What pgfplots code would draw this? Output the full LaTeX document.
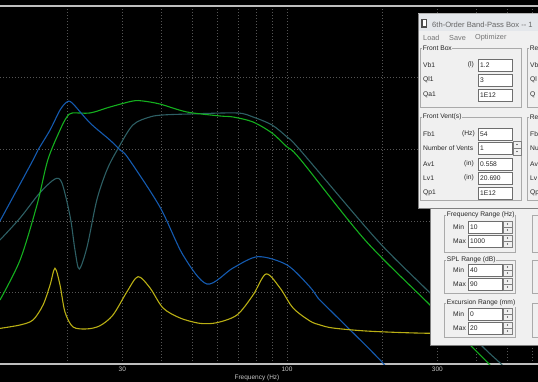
\documentclass[border=0pt]{standalone}
\usepackage{pgfplots}
\pgfplotsset{compat=1.18}
\usepackage{fontspec}
\setmainfont{Liberation Sans}
\definecolor{blueC}{RGB}{20,90,175}
\definecolor{greenC}{RGB}{20,175,30}
\definecolor{tealC}{RGB}{45,95,100}
\definecolor{yellowC}{RGB}{185,175,20}
\definecolor{gridC}{RGB}{85,85,85}
\definecolor{axisC}{RGB}{190,190,190}
\definecolor{tickC}{RGB}{200,200,200}
\definecolor{winface}{RGB}{240,240,240}
\definecolor{titleC}{RGB}{228,231,235}
\definecolor{frameC}{RGB}{170,170,170}
\definecolor{fieldB}{RGB}{110,110,110}
\begin{document}
\begin{tikzpicture}
\useasboundingbox (0pt,0pt) rectangle (538pt,-382pt);
\fill[black] (0pt,0pt) rectangle (538pt,-382pt);
\begin{scope}
\clip (0pt,0pt) rectangle (538pt,-382pt);
\begin{axis}[at={(0pt,-364pt)}, anchor=south west, scale only axis,
  width=538pt, height=358pt, xmode=log, xmin=12.27, xmax=626.3,
  ymin=40, ymax=90, axis line style={draw=none},
  xtick={30,100,300}, xticklabels={30,100,300},
  minor xtick={20,40,50,60,70,80,90,200,400,500,600},
  ytick={50,60,70,80}, yticklabels={},
  grid=both,
  major grid style={gridC, dash pattern=on 1pt off 2pt, line width=0.6pt},
  minor grid style={gridC, dash pattern=on 1pt off 2pt, line width=0.6pt},
  major tick length=0pt, minor tick length=0pt,
  xticklabel style={font=\fontsize{6.5}{7}\selectfont, text=tickC, inner sep=0pt, yshift=-2.5pt},
  /pgf/number format/assume math mode=true,
  clip mode=individual]
\draw[axisC, line width=1.6pt] (rel axis cs:0,0) -- (rel axis cs:1,0);
\draw[axisC, line width=1.6pt] (rel axis cs:0,1) -- (rel axis cs:1,1);
% teal
\addplot[tealC, line width=1.1pt, smooth, tension=0.5] table {
12.27 57.32
14.21 60.39
16.4 63.88
18.34 65.84
19.3 65.28
20.5 60.53
21.23 55.9
21.9 53.27
23.18 56.34
24.9 62.91
26.8 67.09
28.9 69.89
32.4 73.38
36.7 74.50
40.4 74.78
49.2 74.92
69.4 75.06
78.0 74.50
89.6 73.38
100 71.70
110 69.89
193.1 57.32
284.4 49.92
415.9 42.51
474.7 40.14
529 38.04
};
% green
\addplot[greenC, line width=1.1pt, smooth, tension=0.5] table {
12.27 48.94
14.21 54.53
16.08 62.21
17.4 68.49
19.03 72.68
20.0 74.50
20.8 75.06
23.7 75.06
27.4 75.89
32.4 76.73
34.9 76.73
39.5 76.31
48.1 75.20
61.3 74.64
67.4 74.50
78.0 73.80
89.6 72.26
100 70.31
110 68.63
176.8 57.32
284.4 48.24
434.6 40.14
474.7 38.32
};
% blue
\addplot[blueC, line width=1.1pt, smooth, tension=0.5] table {
12.27 59.97
14.21 65.14
15.62 68.49
16.2 69.89
17.69 72.68
19.03 75.47
20.0 76.59
20.8 76.45
23.7 73.66
27.4 71.28
29.5 69.89
31.3 68.77
39.5 61.93
46.75 55.22
55.7 51.17
67.4 53.41
80.9 54.99
100 53.83
118.3 50.75
125.4 49.22
136.9 47.54
200.2 40.28
228 37.07
};
\end{axis}
\begin{axis}[at={(0pt,-364pt)}, anchor=south west, scale only axis,
  width=538pt, height=358pt, xmode=log, xmin=12.27, xmax=626.3,
  ymin=0, ymax=20, hide axis]
\addplot[yellowC, line width=1.1pt, smooth, tension=0.5] table {
12.27 1.99
14.21 2.18
15.62 2.46
16.81 3.30
17.69 4.41
18.34 5.35
19.03 4.41
19.73 2.91
20.92 2.07
23.18 1.96
25.49 2.14
28.03 2.74
31.05 4.04
33.65 4.88
36.74 4.25
40.40 3.13
45.75 2.57
52.95 2.27
59.95 2.31
69.39 2.74
78.0 3.85
85.8 5.03
95.0 4.25
104.5 3.13
118.3 2.40
127.3 2.18
140.0 2.01
179.5 1.84
258.7 1.73
410 1.68
626.3 1.65
};
\end{axis}
\begin{scope}[x=1pt, y=-1pt]
\tikzset{lab/.style={font=\fontsize{6.7}{7}\selectfont, inner sep=0pt, anchor=west, text=black!85},
  fld/.style={fill=white, draw=fieldB, line width=0.6pt},
  grp/.style={draw=frameC, line width=0.6pt},
  gtitle/.style={font=\fontsize{6.7}{7}\selectfont, inner sep=0.6pt, anchor=west, fill=winface, text=black!85}}
\node[font=\fontsize{6.5}{7}\selectfont, text=tickC, inner sep=0pt] at (257,377.5) {Frequency (Hz)};
% lower window
\fill[winface] (430,200) rectangle (545,345);
\draw[gray, line width=0.8pt] (430,200) -- (430,345) -- (545,345);
\draw[grp] (444,215) rectangle (515,252);
\node[gtitle] at (446,215) {Frequency Range (Hz)};
\node[lab] at (453,227) {Min};
\draw[fld] (468,221) rectangle (502,233); \node[lab] at (470,227) {10};
\node[lab] at (453,241) {Max};
\draw[fld] (468,235) rectangle (502,247); \node[lab] at (470,241) {1000};
\draw[grp] (444,260) rectangle (515,293);
\node[gtitle] at (446,260) {SPL Range (dB)};
\node[lab] at (453,270) {Min};
\draw[fld] (468,264) rectangle (502,276); \node[lab] at (470,270) {40};
\node[lab] at (453,284) {Max};
\draw[fld] (468,278) rectangle (502,290); \node[lab] at (470,284) {90};
\draw[grp] (444,303) rectangle (515,337);
\node[gtitle] at (446,303) {Excursion Range (mm)};
\node[lab] at (453,314) {Min};
\draw[fld] (468,308) rectangle (502,320); \node[lab] at (470,314) {0};
\node[lab] at (453,328) {Max};
\draw[fld] (468,322) rectangle (502,334); \node[lab] at (470,328) {20};
\foreach \yy in {221,235,264,278,308,322} {
  \draw[fill=winface, draw=gray, line width=0.4pt] (503,\yy) rectangle (512,\yy+12);
  \draw[gray, line width=0.4pt] (503,\yy+6) -- (512,\yy+6);
  \fill[black] (507.5,\yy+3) circle (0.6);
  \fill[black] (507.5,\yy+9) circle (0.6);
}
\draw[grp] (532,215) rectangle (560,252);
\draw[grp] (532,260) rectangle (560,293);
\draw[grp] (532,303) rectangle (560,337);
% upper window
\fill[winface] (418,13) rectangle (545,208);
\draw[gray, line width=0.8pt] (418,13) -- (418,208) -- (545,208);
\draw[gray!60, line width=0.6pt] (418,13) -- (545,13);
\fill[titleC] (419,14) rectangle (545,31);
\fill[black!70] (421,19) rectangle (427,28);
\fill[white] (422.5,20.5) rectangle (425.5,26.5);
\node[lab, text=black!60, font=\fontsize{7.6}{8}\selectfont] at (432,24.5) {6th-Order Band-Pass Box {-}{-} 1};
\node[lab, text=black!55, font=\fontsize{7.3}{8}\selectfont] at (423,38) {Load};
\node[lab, text=black!55, font=\fontsize{7.3}{8}\selectfont] at (449,38) {Save};
\node[lab, text=black!55, font=\fontsize{7.3}{8}\selectfont] at (475,38) {Optimizer};
\draw[grp] (420,48) rectangle (521,107);
\node[gtitle] at (422,48) {Front Box};
\node[lab] at (423,65) {Vb1}; \node[lab, anchor=east] at (474,65) {(l)};
\draw[fld] (478,59) rectangle (512,71); \node[lab] at (480,65) {1.2};
\node[lab] at (423,80) {Ql1};
\draw[fld] (478,74) rectangle (512,86); \node[lab] at (480,80) {3};
\node[lab] at (423,95) {Qa1};
\draw[fld] (478,89) rectangle (512,101); \node[lab] at (480,95) {1E12};
\draw[grp] (420,117) rectangle (521,200);
\node[gtitle] at (422,117) {Front Vent(s)};
\node[lab] at (423,134) {Fb1}; \node[lab, anchor=east] at (475,134) {(Hz)};
\draw[fld] (478,128) rectangle (512,140); \node[lab] at (480,134) {54};
\node[lab] at (423,148) {Number of Vents};
\draw[fld] (478,142) rectangle (512,154); \node[lab] at (480,148) {1};
\draw[fill=winface, draw=gray, line width=0.4pt] (513,141) rectangle (521,155);
\draw[gray, line width=0.4pt] (513,148) -- (521,148);
\fill[black] (517,144.5) circle (0.6); \fill[black] (517,151.5) circle (0.6);
\node[lab] at (423,164) {Av1}; \node[lab, anchor=east] at (474,164) {(in)};
\draw[fld] (478,158) rectangle (512,170); \node[lab] at (480,164) {0.558};
\node[lab] at (423,178) {Lv1}; \node[lab, anchor=east] at (474,178) {(in)};
\draw[fld] (478,172) rectangle (512,184); \node[lab] at (480,178) {20.690};
\node[lab] at (423,193) {Qp1};
\draw[fld] (478,187) rectangle (512,199); \node[lab] at (480,193) {1E12};
\draw[grp] (527,48) rectangle (560,107);
\node[gtitle] at (529,48) {Re};
\node[lab] at (530,65) {Vb};
\node[lab] at (530,80) {Ql};
\node[lab] at (530,95) {Q};
\draw[grp] (527,117) rectangle (560,200);
\node[gtitle] at (529,117) {Re};
\node[lab] at (530,134) {Fb};
\node[lab] at (530,148) {Nu};
\node[lab] at (530,164) {Av};
\node[lab] at (530,178) {Lv};
\node[lab] at (530,193) {Qp};
\end{scope}
\end{scope}
\end{tikzpicture}
\end{document}
